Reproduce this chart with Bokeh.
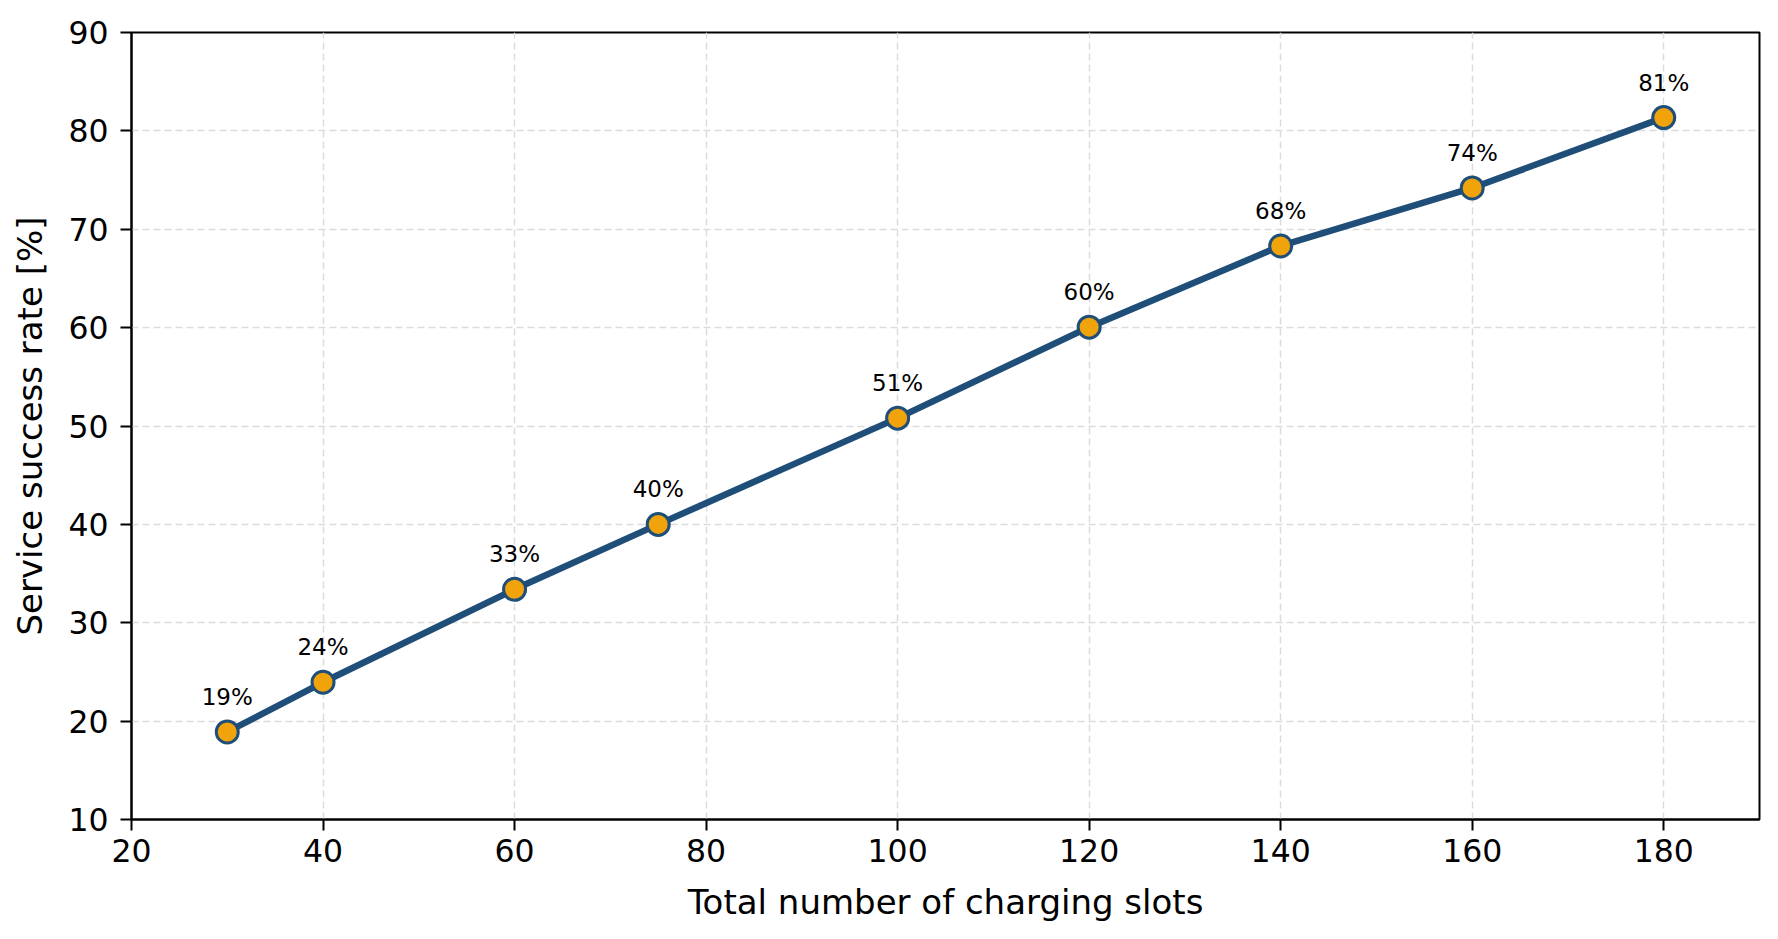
from bokeh.plotting import figure
from bokeh.models import ColumnDataSource, FixedTicker, Range1d, LabelSet
from bokeh.embed import file_html
from bokeh.resources import INLINE
from bokeh.core.properties import value

slots = [30, 40, 60, 75, 100, 120, 140, 160, 180]
success = [18.9, 23.95, 33.4, 40.0, 50.8, 60.05, 68.3, 74.2, 81.35]
labels = [f"{v:.0f}%" for v in success]
x_ticks = [20, 40, 60, 80, 100, 120, 140, 160, 180]
y_ticks = [10, 20, 30, 40, 50, 60, 70, 80, 90]

FONT = "DejaVu Sans"
LINE = "#1f4e79"
FILL = "#f0a30a"

src = ColumnDataSource(dict(x=slots, y=success, lab=labels))

p = figure(width=1770, height=931, output_backend="svg", toolbar_location=None,
           x_range=Range1d(20, 190), y_range=Range1d(10, 90),
           min_border_left=131, min_border_right=11, min_border_top=32, min_border_bottom=112)
p.background_fill_color = "white"
p.border_fill_color = "white"
p.outline_line_color = "black"
p.outline_line_width = 2

p.line("x", "y", source=src, line_color=LINE, line_width=6.5)
p.scatter("x", "y", source=src, size=22, fill_color=FILL, line_color=LINE, line_width=3)

lbl = LabelSet(x="x", y="y", text="lab", source=src, x_offset=0, y_offset=27,
               text_align="center", text_baseline="alphabetic",
               text_font=value(FONT), text_font_size="23px", text_color="black")
p.add_layout(lbl)

for ax in (p.xaxis, p.yaxis):
    ax.axis_line_color = "black"
    ax.axis_line_width = 2
    ax.major_tick_line_color = "black"
    ax.major_tick_line_width = 2
    ax.major_tick_out = 11
    ax.major_tick_in = 0
    ax.minor_tick_line_color = None
    ax.major_label_text_font = FONT
    ax.major_label_text_font_size = "31.5px"
    ax.major_label_text_color = "black"
    ax.axis_label_text_font = FONT
    ax.axis_label_text_font_size = "34px"
    ax.axis_label_text_font_style = "normal"
    ax.axis_label_text_color = "black"

p.xaxis.ticker = FixedTicker(ticks=x_ticks)
p.yaxis.ticker = FixedTicker(ticks=y_ticks)
p.xaxis.axis_label = "Total number of charging slots"
p.yaxis.axis_label = "Service success rate [%]"
p.xaxis.major_label_standoff = 8
p.yaxis.major_label_standoff = 12
p.xaxis.axis_label_standoff = 17
p.yaxis.axis_label_standoff = 15

for g in (p.xgrid, p.ygrid):
    g.grid_line_color = "#dcdcdc"
    g.grid_line_width = 1.5
    g.grid_line_dash = "7 4"

open("out.html", "w").write(file_html(p, INLINE))
